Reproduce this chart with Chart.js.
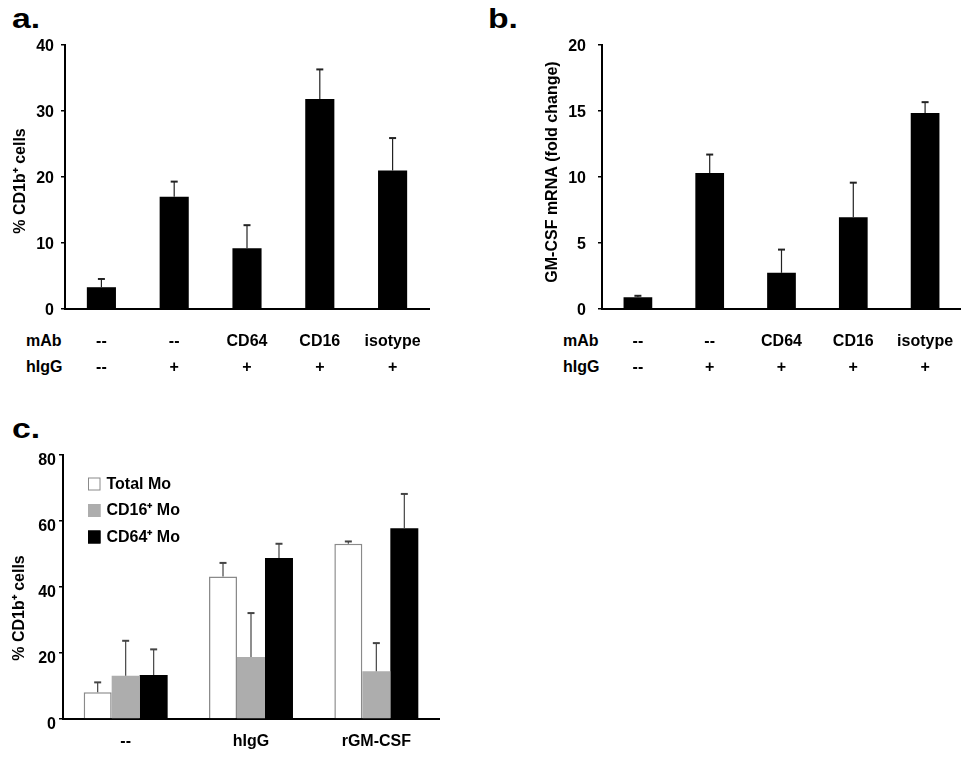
<!DOCTYPE html>
<html>
<head>
<meta charset="utf-8">
<script src="https://cdn.jsdelivr.net/npm/chart.js@4.4.1/dist/chart.umd.min.js"></script>
<style>
  html, body { margin: 0; padding: 0; background: #fff; }
  body { width: 974px; height: 758px; position: relative; overflow: hidden; font-family: 'Liberation Sans', Arial, sans-serif; }
  canvas { position: absolute; left: 0; top: 0; }
  .lbl { position: absolute; font-weight: bold; color: #000; white-space: nowrap; line-height: 1; }
  .letter { font-size: 27px; transform: scaleX(1.25); transform-origin: left top; }
  .row { font-size: 16px; }
</style>
</head>
<body>
<div class="lbl letter" style="left:12px;top:6px;">a.</div>
<div class="lbl letter" style="left:488px;top:6px;">b.</div>
<div class="lbl letter" style="left:12px;top:416px;">c.</div>
<div class="lbl row" style="left:26px;top:333px;">mAb</div>
<div class="lbl row" style="left:26px;top:359px;">hIgG</div>
<div class="lbl row" style="left:563px;top:333px;">mAb</div>
<div class="lbl row" style="left:563px;top:359px;">hIgG</div>
<canvas id="ca" width="974" height="758"></canvas>
<canvas id="cb" width="974" height="758"></canvas>
<canvas id="cc" width="974" height="758"></canvas>
<script>
// ---- data ----
const mAbLabels = ['--', '--', 'CD64', 'CD16', 'isotype'];
const hIgGLabels = ['--', '+', '+', '+', '+'];

const aValues = [3.3, 17.0, 9.2, 31.8, 21.0];
const aErrors = [1.25, 2.3, 3.5, 4.5, 4.9];
const aTicks = [0, 10, 20, 30, 40];

const bValues = [0.89, 10.3, 2.74, 6.95, 14.84];
const bErrors = [0.11, 1.4, 1.76, 2.62, 0.83];
const bTicks = [0, 5, 10, 15, 20];

const cCategories = ['--', 'hIgG', 'rGM-CSF'];
const cSeriesNames = ['Total Mo', 'CD16\u207A Mo', 'CD64\u207A Mo'];
const cTotal = [8.1, 43.2, 53.1];
const cTotalErr = [3.0, 4.1, 0.7];
const cCD16 = [13.1, 18.8, 14.5];
const cCD16Err = [10.6, 13.3, 8.5];
const cCD64 = [13.3, 48.8, 57.8];
const cCD64Err = [7.8, 4.3, 10.4];
const cTicks = [0, 20, 40, 60, 80];

// ---- setup ----
const FONT = "'Liberation Sans', Arial, sans-serif";
Chart.defaults.font.family = FONT;
Chart.defaults.font.weight = 'bold';
Chart.defaults.font.size = 16;
Chart.defaults.color = '#000';
Chart.defaults.animation = false;

const errorBars = {
  id: 'errorBars',
  afterDatasetsDraw(chart) {
    const ctx = chart.ctx;
    const ys = chart.scales.y;
    chart.data.datasets.forEach((ds, di) => {
      if (!ds.errors) return;
      const meta = chart.getDatasetMeta(di);
      meta.data.forEach((bar, i) => {
        const top = ys.getPixelForValue(ds.data[i] + ds.errors[i]);
        ctx.save();
        ctx.strokeStyle = ds.errColor || '#222';
        ctx.lineWidth = 1.2;
        ctx.beginPath();
        ctx.moveTo(bar.x, bar.y);
        ctx.lineTo(bar.x, top);
        ctx.stroke();
        ctx.lineWidth = 2;
        ctx.beginPath();
        ctx.moveTo(bar.x - 3.5, top);
        ctx.lineTo(bar.x + 3.5, top);
        ctx.stroke();
        ctx.restore();
      });
    });
  }
};

// rotated y-axis title drawn next to the y scale
const yTitle = {
  id: 'yTitle',
  afterDraw(chart, args, opts) {
    const ys = chart.scales.y;
    const a = chart.chartArea;
    const ctx = chart.ctx;
    ctx.save();
    ctx.translate(opts.x, (a.top + a.bottom) / 2 + (opts.dy || 0));
    ctx.rotate(-Math.PI / 2);
    ctx.font = 'bold 16px ' + FONT;
    ctx.fillStyle = '#000';
    ctx.textAlign = 'center';
    ctx.textBaseline = 'middle';
    ctx.fillText(opts.text, 0, 0);
    ctx.restore();
  }
};

function yAxis(ticks, width, pad, labelOffset) {
  return {
    type: 'linear',
    min: ticks[0],
    max: ticks[ticks.length - 1],
    afterBuildTicks: (s) => { s.ticks = ticks.map(v => ({ value: v })); },
    afterFit: (s) => { s.width = width; },
    border: { display: true, color: '#000', width: 2 },
    grid: { display: true, drawOnChartArea: false, drawTicks: true, tickLength: 4, color: '#000', lineWidth: 1.5 },
    ticks: { padding: pad, labelOffset: labelOffset, font: { size: 16, weight: 'bold' }, color: '#000' },
    title: { display: false }
  };
}

function xAxis(height, pad) {
  return {
    type: 'category',
    offset: true,
    afterFit: (s) => { s.height = height; },
    border: { display: true, color: '#000', width: 2 },
    grid: { display: false, drawTicks: false },
    ticks: { padding: pad, maxRotation: 0, autoSkip: false, font: { size: 16, weight: 'bold', lineHeight: 1.625 }, color: '#000' }
  };
}

const twoRow = mAbLabels.map((m, i) => [m, hIgGLabels[i]]);

// Panel a
new Chart(document.getElementById('ca'), {
  type: 'bar',
  data: {
    labels: twoRow,
    datasets: [{ data: aValues, errors: aErrors, backgroundColor: '#000', barPercentage: 0.4, categoryPercentage: 1 }]
  },
  options: {
    responsive: false,
    layout: { padding: { left: 5, top: 45, right: 545, bottom: 758 - 309 - 70 } },
    plugins: { legend: { display: false }, tooltip: { enabled: false }, yTitle: { text: '% CD1b\u207A cells', x: 21, dy: 4 } },
    scales: {
      x: xAxis(70, 20),
      y: yAxis(aTicks, 60, 7, 2)
    }
  },
  plugins: [errorBars, yTitle]
});

// Panel b
new Chart(document.getElementById('cb'), {
  type: 'bar',
  data: {
    labels: twoRow,
    datasets: [{ data: bValues, errors: bErrors, backgroundColor: '#000', barPercentage: 0.4, categoryPercentage: 1 }]
  },
  options: {
    responsive: false,
    layout: { padding: { left: 542, top: 45, right: 9, bottom: 758 - 309 - 70 } },
    plugins: { legend: { display: false }, tooltip: { enabled: false }, yTitle: { text: 'GM-CSF mRNA (fold change)', x: 553, dy: -5 } },
    scales: {
      x: xAxis(70, 20),
      y: yAxis(bTicks, 60, 12, 2)
    }
  },
  plugins: [errorBars, yTitle]
});

// Panel c legend
const innerLegend = {
  id: 'innerLegend',
  afterDraw(chart) {
    const ctx = chart.ctx;
    const a = chart.chartArea;
    chart.data.datasets.forEach((ds, i) => {
      const bx = a.left + 25, by = a.top + 22.5 + i * 26.5;
      ctx.save();
      ctx.fillStyle = ds.backgroundColor;
      ctx.fillRect(bx, by, 12.5, 13);
      ctx.strokeStyle = ds.legendBorder;
      ctx.lineWidth = 1;
      ctx.strokeRect(bx + 0.5, by + 0.5, 11.5, 12);
      ctx.fillStyle = '#000';
      ctx.font = 'bold 16px ' + FONT;
      ctx.textBaseline = 'middle';
      ctx.textAlign = 'left';
      ctx.fillText(ds.label, a.left + 43.5, by + 7);
      ctx.restore();
    });
  }
};

new Chart(document.getElementById('cc'), {
  type: 'bar',
  data: {
    labels: cCategories,
    datasets: [
      { label: cSeriesNames[0], data: cTotal, errors: cTotalErr, errColor: '#444', backgroundColor: '#ffffff', borderColor: '#8a8a8a', legendBorder: '#8a8a8a', borderWidth: 1.5, barPercentage: 1, categoryPercentage: 0.67 },
      { label: cSeriesNames[1], data: cCD16, errors: cCD16Err, errColor: '#444', backgroundColor: '#adadad', borderColor: '#adadad', legendBorder: '#adadad', borderWidth: 0, barPercentage: 1, categoryPercentage: 0.67 },
      { label: cSeriesNames[2], data: cCD64, errors: cCD64Err, errColor: '#444', backgroundColor: '#000000', borderColor: '#000', legendBorder: '#000', borderWidth: 0, barPercentage: 1, categoryPercentage: 0.67 }
    ]
  },
  options: {
    responsive: false,
    layout: { padding: { left: 5, top: 455, right: 535, bottom: 758 - 719 - 36 } },
    plugins: { legend: { display: false }, tooltip: { enabled: false }, yTitle: { text: '% CD1b\u207A cells', x: 20, dy: 21 } },
    scales: {
      x: xAxis(36, 10),
      y: yAxis(cTicks, 58, 3, 6)
    }
  },
  plugins: [errorBars, innerLegend, yTitle]
});
</script>
</body>
</html>
